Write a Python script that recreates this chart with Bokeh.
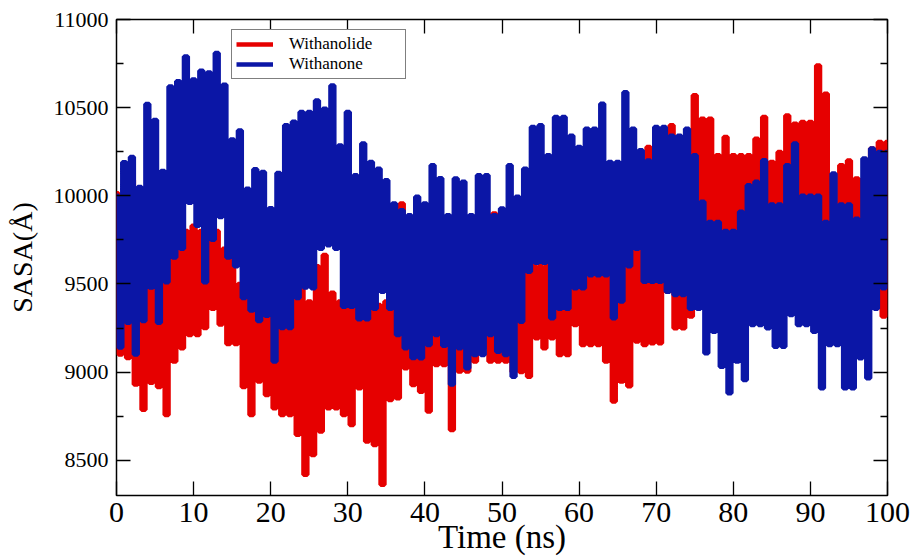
from bokeh.plotting import figure
from bokeh.models import Range1d, LinearAxis, FixedTicker, Legend, LegendItem
from bokeh.embed import file_html
from bokeh.resources import INLINE

# ---- data (SASA in Å, time in ns) ----
time_peaks = list(range(0, 101))
time_troughs = [t + 0.5 for t in range(0, 100)]

withanone_peaks = [
    10000, 10190, 10220, 10050, 10520, 10430, 10140, 10620, 10650, 10790,
    10660, 10710, 10700, 10810, 10630, 10320, 10370, 10040, 10150, 10135,
    9930, 10130, 10400, 10420, 10475, 10475, 10540, 10494, 10626, 10286,
    10475, 10117, 10296, 10192, 10154, 10088, 9956, 9918, 9890, 9994,
    9956, 10173, 10100, 9890, 10098, 10079, 9890, 10117, 10117, 9890,
    9928, 10173, 9994, 10154, 10390, 10400, 10230, 10447, 10447, 10340,
    10277, 10380, 10380, 10522, 10192, 10192, 10588, 10380, 10258, 10200,
    10390, 10390, 10340, 10340, 10380, 10230, 9966, 9852, 9852, 9800,
    9800, 9909, 10060, 10079, 10201, 9950, 9950, 10173, 10296, 10000,
    10000, 10000, 9852, 10126, 9950, 9950, 9870, 10211, 10268, 10249,
    10249]
withanone_troughs = [
    9140, 9280, 9100, 9290, 9480, 9280, 9510, 9650, 9700, 9960,
    9830, 9510, 9750, 9880, 9650, 9600, 9420, 9350, 9290, 9320,
    9060, 9250, 9250, 9420, 9480, 9475, 9700, 9720, 9700, 9370,
    9370, 9300, 9300, 9360, 9456, 9360, 9210, 9135, 9080, 9078,
    9154, 9210, 9150, 8930, 9135, 9022, 9097, 9097, 9210, 9116,
    9097, 8974, 9286, 9569, 9620, 9620, 9305, 9360, 9360, 9475,
    9475, 9550, 9550, 9550, 9305, 9400, 9600, 9700, 9513, 9513,
    9513, 9456, 9437, 9437, 9360, 9360, 9107, 9229, 9031, 8880,
    9060, 8955, 9267, 9267, 9248, 9144, 9144, 9324, 9267, 9267,
    9229, 8908, 9154, 9154, 8908, 8908, 9078, 8965, 9360, 9475]

withanolide_peaks = [
    10015, 9950, 10090, 9800, 9700, 9600, 9700, 9850, 10020, 9800,
    9830, 9800, 9820, 9800, 9700, 9650, 9500, 9450, 9400, 9400,
    9450, 9500, 9400, 9450, 9500, 9400, 9600, 9664, 9450, 9400,
    9578, 9450, 9400, 9350, 9380, 9400, 9500, 9956, 9600, 9550,
    9700, 9600, 9500, 9450, 9450, 9500, 9500, 9550, 9600, 9900,
    9880, 9750, 9650, 9600, 9650, 9600, 9650, 9720, 9600, 9650,
    9700, 9650, 9600, 9796, 9650, 9600, 9700, 9700, 9700, 10277,
    9700, 9800, 10400, 10300, 10100, 10570, 10437, 10437, 10230, 10334,
    10230, 10230, 10230, 10324, 10447, 10192, 10249, 10456, 10409, 10418,
    10418, 10739, 10579, 9870, 10173, 10200, 10098, 10098, 10268, 10305,
    10305]
withanolide_troughs = [
    9100, 9080, 8930, 8786, 8940, 8915, 8757, 9060, 9135, 9210,
    9210, 9250, 9360, 9270, 9160, 9160, 8915, 8757, 8946, 8870,
    8795, 8757, 8757, 8644, 8418, 8530, 8663, 8795, 8795, 8757,
    8700, 8908, 8606, 8587, 8361, 8842, 8852, 9022, 8927, 8889,
    8776, 9040, 9040, 8672, 9003, 9003, 9060, 9135, 9060, 9060,
    9060, 9000, 9000, 8974, 9192, 9135, 9192, 9097, 9097, 9267,
    9154, 9154, 9154, 9060, 8833, 8946, 8920, 9173, 9154, 9164,
    9164, 9456, 9248, 9248, 9315, 9500, 9600, 9650, 9626, 9626,
    9700, 9700, 9650, 9600, 9600, 9650, 9600, 9650, 9650, 9650,
    9700, 9750, 9650, 9600, 9650, 9650, 9650, 9600, 9550, 9315]

x_ticks = [0, 10, 20, 30, 40, 50, 60, 70, 80, 90, 100]
y_ticks = [8500, 9000, 9500, 10000, 10500, 11000]
y_minor = [8750, 9250, 9750, 10250, 10750]

RED = "#e60000"
BLUE = "#0b16a6"
FONT = "Liberation Serif"


def trace(peaks, troughs):
    xs, ys = [], []
    for i in range(len(troughs)):
        xs += [time_peaks[i], time_troughs[i]]
        ys += [peaks[i], troughs[i]]
    xs.append(time_peaks[-1])
    ys.append(peaks[-1])
    return xs, ys


p = figure(width=917, height=560, x_range=Range1d(0, 100), y_range=Range1d(8300, 11000),
           output_backend="svg", toolbar_location=None,
           min_border_left=116, min_border_right=30, min_border_top=19, min_border_bottom=65)
p.grid.visible = False
p.outline_line_color = "black"
p.outline_line_width = 1.5
p.background_fill_color = "white"
p.border_fill_color = "white"

rx, ry = trace(withanolide_peaks, withanolide_troughs)
bx, by = trace(withanone_peaks, withanone_troughs)
r_red = p.step(rx, ry, mode="center", line_color=RED, line_width=4.5)
r_blue = p.step(bx, by, mode="center", line_color=BLUE, line_width=4.5)

# bottom axis
xa = p.xaxis[0]
xa.ticker = FixedTicker(ticks=x_ticks)
xa.axis_label = "Time (ns)"
# left axis
ya = p.yaxis[0]
ya.ticker = FixedTicker(ticks=y_ticks, minor_ticks=y_minor)
ya.axis_label = "SASA(Å)"

for ax in (xa, ya):
    ax.axis_line_color = None
    ax.major_tick_in = 14
    ax.major_tick_out = 0
    ax.minor_tick_in = 7
    ax.minor_tick_out = 0
    ax.major_tick_line_color = "black"
    ax.minor_tick_line_color = "black"
    ax.major_tick_line_width = 1.3
    ax.minor_tick_line_width = 1.3
    ax.major_label_text_font = FONT
    ax.axis_label_text_font = FONT
    ax.axis_label_text_font_style = "normal"
    ax.major_label_text_color = "black"
    ax.axis_label_text_color = "black"

xa.major_label_text_font_size = "30px"
xa.major_label_standoff = 7
xa.axis_label_text_font_size = "33px"
xa.axis_label_standoff = -6
ya.major_label_text_font_size = "22px"
ya.major_label_standoff = 8
ya.axis_label_text_font_size = "28px"
ya.axis_label_standoff = 13

# mirrored axes (ticks only)
top = LinearAxis(ticker=FixedTicker(ticks=x_ticks), major_label_overrides={t: "" for t in x_ticks})
right = LinearAxis(ticker=FixedTicker(ticks=y_ticks, minor_ticks=y_minor),
                   major_label_overrides={t: "" for t in y_ticks})
for ax in (top, right):
    ax.axis_line_color = None
    ax.major_tick_in = 14
    ax.major_tick_out = 0
    ax.minor_tick_in = 7
    ax.minor_tick_out = 0
    ax.major_tick_line_width = 1.3
    ax.minor_tick_line_width = 1.3
    ax.major_label_text_font_size = "1px"
    ax.major_label_standoff = 0
p.add_layout(top, "above")
p.add_layout(right, "right")

legend = Legend(items=[LegendItem(label="Withanolide", renderers=[r_red]),
                       LegendItem(label="Withanone", renderers=[r_blue])],
                location=(115, 416))
legend.label_text_font = FONT
legend.label_text_font_size = "17px"
legend.label_text_color = "black"
legend.label_width = 112
legend.label_height = 16
legend.glyph_width = 37
legend.glyph_height = 16
legend.label_standoff = 16
legend.padding = 4
legend.spacing = 0
legend.margin = 0
legend.border_line_color = "black"
legend.border_line_width = 1.5
legend.background_fill_alpha = 1.0
p.add_layout(legend)

open("out.html", "w").write(file_html(p, INLINE))
